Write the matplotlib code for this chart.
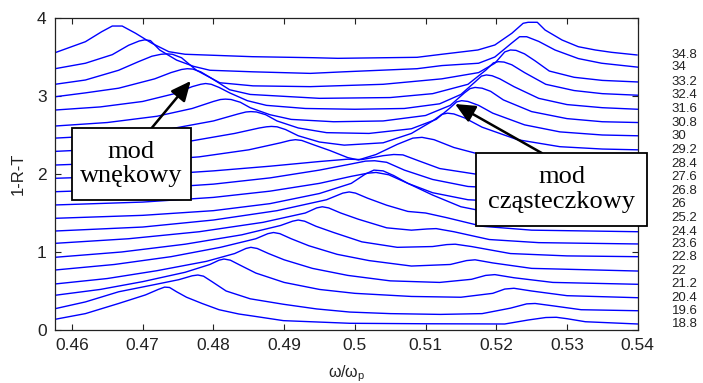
import matplotlib
matplotlib.use("Agg")
import matplotlib.pyplot as plt
from matplotlib.patches import Rectangle, FancyArrowPatch
from matplotlib.transforms import blended_transform_factory

plt.rcParams['font.family'] = ['Liberation Sans', 'DejaVu Sans']

# parameter value of each spectrum (bottom to top)
labels = ["18.8", "19.6", "20.4", "21.2", "22", "22.8", "23.6", "24.4", "25.2", "26",
          "26.8", "27.6", "28.4", "29.2", "30", "30.8", "31.6", "32.4", "33.2", "34", "34.8"]

# 1-R-T spectra, each already shifted by its waterfall offset
x_18_8 = [0.4576, 0.4619, 0.4666, 0.4704, 0.4722, 0.4731, 0.4738, 0.4748, 0.4762, 0.4784, 0.4808, 0.4836, 0.4855, 0.4899, 0.4993, 0.5100, 0.5212, 0.5245, 0.5270, 0.5285, 0.5300, 0.5326, 0.5400]
y_18_8 = [0.137, 0.21, 0.34, 0.45, 0.52, 0.55, 0.545, 0.49, 0.42, 0.34, 0.26, 0.205, 0.18, 0.12, 0.086, 0.08, 0.077, 0.128, 0.160, 0.163, 0.145, 0.106, 0.077]

x_19_6 = [0.4576, 0.4619, 0.4666, 0.4713, 0.4751, 0.4770, 0.4778, 0.4786, 0.4798, 0.4818, 0.4852, 0.4899, 0.4946, 0.4993, 0.5050, 0.5121, 0.5180, 0.5220, 0.5243, 0.5255, 0.5280, 0.5320, 0.5400]
y_19_6 = [0.273, 0.36, 0.49, 0.575, 0.645, 0.695, 0.705, 0.69, 0.62, 0.50, 0.40, 0.33, 0.27, 0.23, 0.21, 0.20, 0.21, 0.28, 0.335, 0.34, 0.31, 0.26, 0.247]

x_20_4 = [0.4576, 0.4640, 0.4700, 0.4760, 0.4795, 0.4808, 0.4815, 0.4824, 0.4838, 0.4860, 0.4900, 0.4950, 0.5000, 0.5080, 0.5150, 0.5195, 0.5212, 0.5225, 0.5250, 0.5300, 0.5400]
y_20_4 = [0.445, 0.52, 0.62, 0.74, 0.84, 0.895, 0.91, 0.895, 0.83, 0.73, 0.61, 0.52, 0.47, 0.43, 0.42, 0.47, 0.525, 0.535, 0.50, 0.44, 0.414]

x_21_2 = [0.4576, 0.4650, 0.4720, 0.4790, 0.4830, 0.4846, 0.4853, 0.4862, 0.4878, 0.4900, 0.4940, 0.4990, 0.5050, 0.5120, 0.5165, 0.5185, 0.5198, 0.5225, 0.5280, 0.5400]
y_21_2 = [0.59, 0.66, 0.76, 0.88, 0.98, 1.045, 1.06, 1.045, 0.98, 0.90, 0.79, 0.70, 0.63, 0.61, 0.65, 0.70, 0.71, 0.67, 0.61, 0.586]

x_22 = [0.4576, 0.4660, 0.4740, 0.4810, 0.4860, 0.4877, 0.4885, 0.4894, 0.4910, 0.4935, 0.4975, 0.5020, 0.5080, 0.5135, 0.5158, 0.5170, 0.5195, 0.5250, 0.5400]
y_22 = [0.769, 0.84, 0.94, 1.06, 1.17, 1.235, 1.25, 1.235, 1.17, 1.08, 0.97, 0.89, 0.82, 0.84, 0.89, 0.90, 0.86, 0.79, 0.756]

x_22_8 = [0.4576, 0.4670, 0.4760, 0.4840, 0.4895, 0.4912, 0.4920, 0.4929, 0.4945, 0.4970, 0.5010, 0.5060, 0.5110, 0.5130, 0.5142, 0.5165, 0.5220, 0.5300, 0.5400]
y_22_8 = [0.932, 1.00, 1.10, 1.22, 1.34, 1.395, 1.41, 1.395, 1.33, 1.25, 1.13, 1.06, 1.07, 1.095, 1.10, 1.07, 0.98, 0.95, 0.94]

x_23_6 = [0.4576, 0.4680, 0.4780, 0.4870, 0.4930, 0.4946, 0.4954, 0.4963, 0.4980, 0.5005, 0.5045, 0.5080, 0.5102, 0.5115, 0.5140, 0.5190, 0.5260, 0.5400]
y_23_6 = [1.111, 1.17, 1.26, 1.38, 1.50, 1.565, 1.58, 1.565, 1.50, 1.42, 1.31, 1.28, 1.295, 1.30, 1.26, 1.16, 1.12, 1.103]

x_24_4 = [0.4576, 0.4700, 0.4800, 0.4890, 0.4960, 0.4983, 0.4992, 0.5001, 0.5018, 0.5045, 0.5075, 0.5100, 0.5130, 0.5180, 0.5250, 0.5400]
y_24_4 = [1.269, 1.32, 1.41, 1.53, 1.67, 1.755, 1.77, 1.755, 1.69, 1.60, 1.52, 1.50, 1.44, 1.33, 1.28, 1.26]

x_25_2 = [0.4576, 0.4700, 0.4800, 0.4880, 0.4950, 0.4995, 0.5015, 0.5027, 0.5040, 0.5055, 0.5075, 0.5110, 0.5150, 0.5200, 0.5280, 0.5400]
y_25_2 = [1.432, 1.47, 1.53, 1.62, 1.75, 1.88, 2.00, 2.05, 2.04, 1.98, 1.88, 1.73, 1.58, 1.49, 1.45, 1.436]

x_26 = [0.4576, 0.4700, 0.4800, 0.4880, 0.4950, 0.4995, 0.5018, 0.5030, 0.5048, 0.5075, 0.5110, 0.5160, 0.5250, 0.5400]
y_26 = [1.603, 1.64, 1.70, 1.78, 1.88, 1.97, 2.01, 2.02, 1.99, 1.88, 1.76, 1.67, 1.63, 1.61]

x_26_8 = [0.4576, 0.4700, 0.4800, 0.4880, 0.4950, 0.4990, 0.5015, 0.5028, 0.5045, 0.5070, 0.5110, 0.5160, 0.5250, 0.5400]
y_26_8 = [1.773, 1.81, 1.87, 1.95, 2.05, 2.12, 2.165, 2.17, 2.15, 2.05, 1.93, 1.84, 1.80, 1.785]

x_27_6 = [0.4576, 0.4700, 0.4800, 0.4880, 0.4950, 0.4990, 0.5010, 0.5040, 0.5055, 0.5068, 0.5090, 0.5120, 0.5170, 0.5250, 0.5400]
y_27_6 = [1.945, 1.98, 2.04, 2.10, 2.16, 2.19, 2.185, 2.235, 2.25, 2.245, 2.17, 2.07, 2.00, 1.97, 1.96]

x_28_4 = [0.4576, 0.4680, 0.4780, 0.4850, 0.4895, 0.4908, 0.4916, 0.4925, 0.4940, 0.4965, 0.4990, 0.5005, 0.5030, 0.5060, 0.5082, 0.5095, 0.5112, 0.5140, 0.5190, 0.5250, 0.5320, 0.5400]
y_28_4 = [2.115, 2.15, 2.22, 2.31, 2.40, 2.43, 2.44, 2.43, 2.38, 2.30, 2.21, 2.18, 2.25, 2.38, 2.46, 2.47, 2.44, 2.34, 2.22, 2.16, 2.14, 2.13]

x_29_2 = [0.4576, 0.4670, 0.4760, 0.4830, 0.4865, 0.4875, 0.4882, 0.4890, 0.4902, 0.4920, 0.4950, 0.4985, 0.5040, 0.5080, 0.5110, 0.5123, 0.5131, 0.5140, 0.5155, 0.5180, 0.5230, 0.5290, 0.5350, 0.5400]
y_29_2 = [2.29, 2.33, 2.41, 2.52, 2.59, 2.605, 2.61, 2.605, 2.57, 2.49, 2.41, 2.37, 2.40, 2.52, 2.68, 2.765, 2.78, 2.77, 2.72, 2.60, 2.44, 2.35, 2.32, 2.31]

x_30 = [0.4576, 0.4660, 0.4740, 0.4800, 0.4835, 0.4846, 0.4853, 0.4861, 0.4874, 0.4890, 0.4920, 0.4960, 0.5020, 0.5080, 0.5115, 0.5135, 0.5144, 0.5151, 0.5160, 0.5175, 0.5195, 0.5240, 0.5290, 0.5350, 0.5400]
y_30 = [2.46, 2.50, 2.58, 2.68, 2.77, 2.795, 2.80, 2.795, 2.76, 2.68, 2.59, 2.53, 2.52, 2.58, 2.70, 2.85, 2.925, 2.94, 2.93, 2.88, 2.78, 2.63, 2.54, 2.50, 2.49]

x_30_8 = [0.4576, 0.4650, 0.4720, 0.4770, 0.4800, 0.4810, 0.4817, 0.4825, 0.4838, 0.4852, 0.4880, 0.4910, 0.4970, 0.5040, 0.5100, 0.5135, 0.5155, 0.5163, 0.5170, 0.5180, 0.5192, 0.5210, 0.5250, 0.5300, 0.5350, 0.5400]
y_30_8 = [2.615, 2.66, 2.74, 2.84, 2.93, 2.955, 2.96, 2.955, 2.92, 2.85, 2.76, 2.70, 2.67, 2.68, 2.75, 2.88, 3.04, 3.095, 3.11, 3.10, 3.06, 2.95, 2.80, 2.71, 2.67, 2.66]

x_31_6 = [0.4576, 0.4640, 0.4700, 0.4745, 0.4770, 0.4782, 0.4789, 0.4797, 0.4808, 0.4823, 0.4848, 0.4875, 0.4930, 0.5000, 0.5070, 0.5120, 0.5150, 0.5170, 0.5179, 0.5186, 0.5194, 0.5205, 0.5225, 0.5260, 0.5300, 0.5350, 0.5400]
y_31_6 = [2.82, 2.86, 2.93, 3.03, 3.12, 3.15, 3.16, 3.15, 3.11, 3.04, 2.94, 2.88, 2.84, 2.83, 2.84, 2.90, 3.02, 3.18, 3.255, 3.27, 3.26, 3.22, 3.12, 2.97, 2.89, 2.85, 2.83]

x_32_4 = [0.4576, 0.4619, 0.4666, 0.4717, 0.4740, 0.4755, 0.4763, 0.4771, 0.4782, 0.4795, 0.4823, 0.4852, 0.4950, 0.5050, 0.5110, 0.5160, 0.5185, 0.5196, 0.5203, 0.5211, 0.5222, 0.5240, 0.5270, 0.5310, 0.5350, 0.5400]
y_32_4 = [2.99, 3.04, 3.10, 3.22, 3.30, 3.34, 3.35, 3.345, 3.31, 3.24, 3.08, 3.02, 2.97, 2.98, 3.03, 3.15, 3.33, 3.425, 3.44, 3.435, 3.40, 3.30, 3.15, 3.07, 3.03, 3.01]

x_33_2 = [0.4576, 0.4619, 0.4666, 0.4694, 0.4713, 0.4726, 0.4734, 0.4742, 0.4755, 0.4776, 0.4809, 0.4856, 0.4937, 0.5040, 0.5123, 0.5175, 0.5198, 0.5212, 0.5220, 0.5228, 0.5240, 0.5255, 0.5275, 0.5310, 0.5350, 0.5400]
y_33_2 = [3.15, 3.205, 3.33, 3.44, 3.51, 3.535, 3.54, 3.535, 3.49, 3.33, 3.17, 3.13, 3.12, 3.15, 3.22, 3.30, 3.42, 3.565, 3.59, 3.585, 3.54, 3.45, 3.32, 3.24, 3.20, 3.18]

x_34 = [0.4576, 0.4619, 0.4657, 0.4680, 0.4695, 0.4703, 0.4711, 0.4724, 0.4748, 0.4772, 0.4795, 0.4856, 0.4937, 0.4984, 0.5088, 0.5123, 0.5175, 0.5198, 0.5222, 0.5233, 0.5243, 0.5260, 0.5283, 0.5316, 0.5349, 0.5400]
y_34 = [3.35, 3.42, 3.53, 3.65, 3.705, 3.72, 3.71, 3.59, 3.46, 3.38, 3.33, 3.31, 3.29, 3.31, 3.35, 3.39, 3.42, 3.50, 3.68, 3.76, 3.76, 3.70, 3.59, 3.48, 3.42, 3.37]

x_34_8 = [0.4576, 0.4619, 0.4642, 0.4657, 0.4671, 0.4690, 0.4713, 0.4737, 0.4760, 0.4855, 0.4941, 0.4976, 0.5088, 0.5123, 0.5174, 0.5198, 0.5222, 0.5238, 0.5245, 0.5258, 0.5269, 0.5293, 0.5316, 0.5340, 0.5363, 0.5399]
y_34_8 = [3.555, 3.696, 3.824, 3.897, 3.897, 3.804, 3.676, 3.568, 3.535, 3.504, 3.491, 3.483, 3.496, 3.535, 3.590, 3.654, 3.804, 3.932, 3.945, 3.945, 3.846, 3.718, 3.632, 3.590, 3.560, 3.526]

xs_all = [x_18_8, x_19_6, x_20_4, x_21_2, x_22, x_22_8, x_23_6, x_24_4, x_25_2, x_26, x_26_8,
          x_27_6, x_28_4, x_29_2, x_30, x_30_8, x_31_6, x_32_4, x_33_2, x_34, x_34_8]
ys_all = [y_18_8, y_19_6, y_20_4, y_21_2, y_22, y_22_8, y_23_6, y_24_4, y_25_2, y_26, y_26_8,
          y_27_6, y_28_4, y_29_2, y_30, y_30_8, y_31_6, y_32_4, y_33_2, y_34, y_34_8]

x_ticks = [0.46, 0.47, 0.48, 0.49, 0.50, 0.51, 0.52, 0.53, 0.54]
x_tick_labels = ["0.46", "0.47", "0.48", "0.49", "0.5", "0.51", "0.52", "0.53", "0.54"]
y_ticks = [0, 1, 2, 3, 4]

W, H = 703, 383
fig = plt.figure(figsize=(W / 100, H / 100), dpi=100)
ax = fig.add_axes([55 / W, 53 / H, 582.7 / W, 312 / H])

for xs, ys in zip(xs_all, ys_all):
    ax.plot(xs, ys, color="#0000ff", lw=1.0, solid_joinstyle="round")

ax.set_xlim(0.4576, 0.54)
ax.set_ylim(0, 4)
ax.set_xticks(x_ticks)
ax.set_xticklabels(x_tick_labels)
ax.set_yticks(y_ticks)
ax.tick_params(direction="in", top=True, right=True, length=4, width=0.8,
               labelsize=12.5, colors="#222222", pad=6)
for sp in ax.spines.values():
    sp.set_color("#222222")
    sp.set_linewidth(0.9)

ax.set_ylabel("1-R-T", fontsize=12, color="#222222", labelpad=8)
ax.set_xlabel("ω/ω$_\\mathregular{p}$", fontsize=11.5, color="#222222", labelpad=7)

# parameter labels beside the right end of each spectrum
tr = blended_transform_factory(ax.transAxes, ax.transData)
for ys, lab in zip(ys_all, labels):
    ax.text(1.058, ys[-1], lab, transform=tr, fontsize=9.5, color="#222222",
            ha="left", va="center", clip_on=False)

# annotation boxes with arrows (figure pixel positions)
def fpx(x, y):
    return (x / W, 1 - y / H)

def box(x0, y0, x1, y1, text):
    r = Rectangle(fpx(x0, y1), (x1 - x0) / W, (y1 - y0) / H, transform=fig.transFigure,
                  facecolor="white", edgecolor="black", lw=1.3, zorder=10)
    fig.add_artist(r)
    fig.text((x0 + x1) / 2 / W, 1 - (y0 + y1) / 2 / H, text, ha="center", va="center",
             family="Liberation Serif", fontsize=19, linespacing=1.15, zorder=11)

def arrow(x0, y0, x1, y1):
    a = FancyArrowPatch(fpx(x0, y0), fpx(x1, y1), transform=fig.transFigure,
                        arrowstyle="-|>,head_length=12,head_width=5.5", lw=1.8,
                        color="black", zorder=9, shrinkA=0, shrinkB=0)
    fig.add_artist(a)

arrow(151.7, 128, 190.7, 81)
arrow(541.7, 153, 455, 104)
box(71.7, 127.7, 191, 200, "mod\nwnękowy")
box(476, 153, 647, 225.7, "mod\ncząsteczkowy")

fig.savefig("out.png", dpi=100)
